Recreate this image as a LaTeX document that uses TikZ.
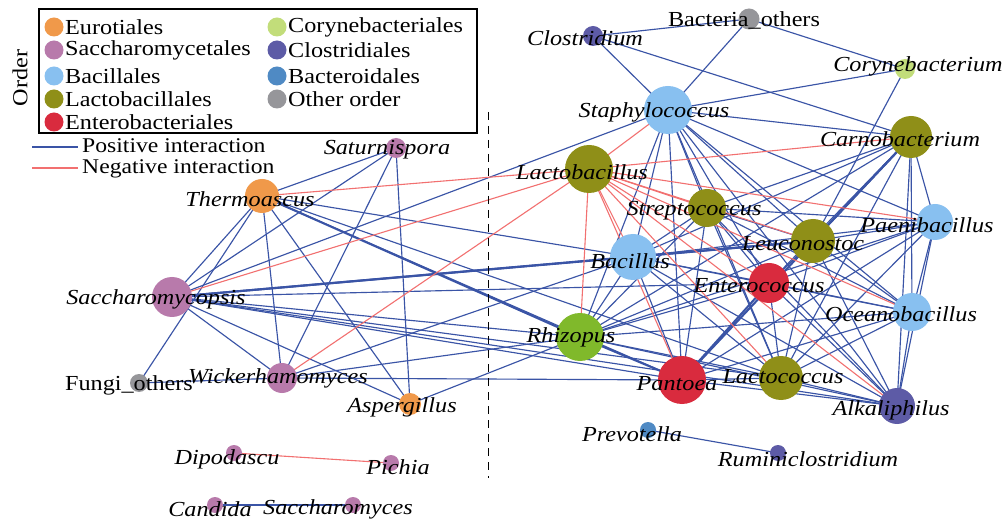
\documentclass[tikz,border=0pt]{standalone}
\usepackage{fontspec}
\setmainfont[FakeStretch=1.13]{Liberation Serif}
\usetikzlibrary{backgrounds}
\pgfdeclarelayer{paper}
\pgfsetlayers{paper,background,main}
\definecolor{posblue}{HTML}{3A54A6}
\definecolor{negred}{HTML}{F27070}
\definecolor{cEuro}{HTML}{F0994A}
\definecolor{cSacc}{HTML}{B87AAB}
\definecolor{cBaci}{HTML}{88C0F0}
\definecolor{cLact}{HTML}{8F8F18}
\definecolor{cEnte}{HTML}{D92B3E}
\definecolor{cCory}{HTML}{C2DD7A}
\definecolor{cClos}{HTML}{5D5BA6}
\definecolor{cBact}{HTML}{4F8AC4}
\definecolor{cOther}{HTML}{96969A}
\definecolor{cRhiz}{HTML}{80B92B}
\tikzset{
  bub/.style={circle, inner sep=0pt, minimum size=#1},
  lab/.style={font=\fontsize{21.5}{24}\selectfont\itshape, inner sep=0pt, yshift=-2bp},
  ulab/.style={font=\fontsize{21.5}{24}\selectfont, inner sep=0pt},
  legtxt/.style={font=\fontsize{21.5}{24}\selectfont, inner sep=0pt, anchor=west},
  intxt/.style={font=\fontsize{21}{24}\selectfont, inner sep=0pt, anchor=base west},
  posedge/.style={draw=posblue, line width=1.15pt},
  negedge/.style={draw=negred, line width=1.1pt},
  posthick/.style={draw=posblue, line width=2.1pt},
}
\begin{document}
\begin{tikzpicture}[x=1bp,y=-1bp]
\useasboundingbox (0,0) rectangle (1005,520);
\begin{pgfonlayer}{paper}
\fill[white] (0,0) rectangle (1005,520);
\end{pgfonlayer}

% ---- nodes (circles) ----
\node[bub=21bp, fill=cOther] (bo) at (749,19) {};
\node[bub=20bp, fill=cClos] (clo) at (593,36) {};
\node[bub=20bp, fill=cCory] (cor) at (905,69) {};
\node[bub=48bp, fill=cBaci] (sta) at (668,110) {};
\node[bub=42bp, fill=cLact] (car) at (911,137) {};
\node[bub=48bp, fill=cLact] (lcb) at (589,169) {};
\node[bub=38bp, fill=cLact] (str) at (707,208) {};
\node[bub=36bp, fill=cBaci] (pae) at (935,222) {};
\node[bub=44bp, fill=cLact] (leu) at (813,241) {};
\node[bub=46bp, fill=cBaci] (bac) at (633,257) {};
\node[bub=40bp, fill=cEnte] (ent) at (769,283) {};
\node[bub=38bp, fill=cBaci] (oce) at (912,312) {};
\node[bub=48bp, fill=cRhiz] (rhi) at (580,337) {};
\node[bub=48bp, fill=cEnte] (pan) at (682,380) {};
\node[bub=44bp, fill=cLact] (lcc) at (781,378) {};
\node[bub=36bp, fill=cClos] (alk) at (897,406) {};
\node[bub=16bp, fill=cBact] (pre) at (648,430) {};
\node[bub=16bp, fill=cClos] (rum) at (778,453) {};
\node[bub=20bp, fill=cSacc] (sat) at (396,148) {};
\node[bub=34bp, fill=cEuro] (the) at (262,196) {};
\node[bub=40bp, fill=cSacc] (sac) at (172,297) {};
\node[bub=30bp, fill=cSacc] (wic) at (282,378) {};
\node[bub=18bp, fill=cOther] (fun) at (139,383) {};
\node[bub=22bp, fill=cEuro] (asp) at (410,404) {};
\node[bub=16bp, fill=cSacc] (dip) at (234,453) {};
\node[bub=16bp, fill=cSacc] (pic) at (391,463) {};
\node[bub=16bp, fill=cSacc] (can) at (215,505) {};
\node[bub=16bp, fill=cSacc] (scm) at (353,505) {};

% ---- edges ----
\begin{pgfonlayer}{background}
\foreach \a/\b in {clo/bo, bo/sta, bo/cor, clo/sta, clo/car, cor/sta, cor/leu,
  sta/car, sta/sac, sta/bac, sta/rhi, sta/str, sta/pan, sta/ent, sta/lcc, sta/leu,
  sta/oce, sta/alk, sta/pae,
  car/str, car/bac, car/ent, car/rhi, car/lcc, car/pae, car/oce, car/alk,
  str/bac, str/leu, str/ent, str/pan, str/lcc, str/rhi, str/pae, str/oce, str/alk,
  pae/bac, pae/leu, pae/ent, pae/rhi, pae/pan, pae/lcc, pae/oce, pae/alk,
  leu/ent, leu/rhi, leu/pan, leu/lcc, leu/oce, leu/alk,
  bac/ent, bac/rhi, bac/pan, bac/lcc, bac/oce, bac/alk, bac/the,
  ent/rhi, ent/lcc, ent/oce, ent/alk, ent/sac,
  oce/rhi, oce/pan, oce/lcc, oce/alk,
  rhi/lcc, rhi/alk, rhi/sac, rhi/wic, rhi/asp,
  pan/lcc, pan/alk, pan/sac, pan/wic, pan/the,
  lcc/alk, lcc/sac, lcc/the, alk/sac,
  sat/the, sat/sac, sat/wic, sat/asp,
  the/sac, the/fun, the/wic, the/asp,
  sac/wic, sac/asp, fun/wic, wic/bac,
  can/scm, pre/rum}
  \draw[posedge] (\a.center) -- (\b.center);
\foreach \a/\b in {car/leu, car/pan, leu/bac, leu/sac, ent/pan, rhi/pan, rhi/the, bac/sac}
  \draw[posthick] (\a.center) -- (\b.center);
\foreach \a/\b in {sta/lcb, car/lcb, lcb/bac, lcb/rhi, lcb/pan, lcb/ent, lcb/lcc,
  lcb/leu, lcb/pae, lcb/oce, lcb/alk, lcb/str, lcb/the, lcb/sac, lcb/wic, dip/pic}
  \draw[negedge] (\a.center) -- (\b.center);
\end{pgfonlayer}

% ---- dashed separator ----
\coordinate (dtop) at (488,112);
\coordinate (dbot) at (488,478);
\draw[black, line width=1pt, dash pattern=on 8bp off 6bp] (dtop) -- (dbot);

% ---- labels ----
\node[ulab] (Lbo) at (744,20) {Bacteria\_others};
\node[lab] (Lclo) at (585,36) {Clostridium};
\node[lab] (Lcor) at (918,64) {Corynebacterium};
\node[lab] (Lsta) at (654,110) {Staphylococcus};
\node[lab] (Lcar) at (900,137) {Carnobacterium};
\node[lab] (Llcb) at (582,170) {Lactobacillus};
\node[lab] (Lstr) at (694,209) {Streptococcus};
\node[lab] (Lpae) at (927,223) {Paenibacillus};
\node[lab] (Lleu) at (803,242) {Leuconostoc};
\node[lab] (Lbac) at (630,259) {Bacillus};
\node[lab] (Lent) at (759,284) {Enterococcus};
\node[lab] (Loce) at (901,312) {Oceanobacillus};
\node[lab] (Lrhi) at (571,335) {Rhizopus};
\node[lab] (Lpan) at (677,382) {Pantoea};
\node[lab] (Llcc) at (783,375) {Lactococcus};
\node[lab] (Lalk) at (891,408) {Alkaliphilus};
\node[lab] (Lpre) at (632,432) {Prevotella};
\node[lab] (Lrum) at (808,457) {Ruminiclostridium};
\node[lab] (Lsat) at (387,148) {Saturnispora};
\node[lab] (Lthe) at (250,197) {Thermoascus};
\node[lab] (Lsac) at (156,297) {Saccharomycopsis};
\node[lab] (Lwic) at (278,376) {Wickerhamomyces};
\node[ulab] (Lfun) at (129,385) {Fungi\_others};
\node[lab] (Lasp) at (402,405) {Aspergillus};
\node[lab] (Ldip) at (227,457) {Dipodascu};
\node[lab] (Lpic) at (398,465) {Pichia};
\node[lab] (Lcan) at (210,507) {Candida};
\node[lab] (Lscm) at (338,507) {Saccharomyces};

% ---- legend ----
\node[draw=black, line width=1.2pt, minimum width=438bp, minimum height=124bp, inner sep=0pt] (legbox) at (258,71) {};
\node[ulab, rotate=90] (ordertxt) at (20,78) {Order};
\foreach \c/\t/\y [count=\i] in {cEuro/Eurotiales/27, cSacc/Saccharomycetales/50, cBaci/Bacillales/76, cLact/Lactobacillales/99, cEnte/Enterobacteriales/122} {
  \node[bub=19bp, fill=\c] (lc\i) at (54,\y) {};
  \node[legtxt] (lt\i) at (65,\y) {\t};
}
\foreach \c/\t/\y [count=\i] in {cCory/Corynebacteriales/27, cClos/Clostridiales/50, cBact/Bacteroidales/76, cOther/Other order/99} {
  \node[bub=19bp, fill=\c] (rc\i) at (277,\y) {};
  \node[legtxt] (rt\i) at (288,\y) {\t};
}
\coordinate (pl1) at (32,147);
\coordinate (pl2) at (78,147);
\coordinate (nl1) at (32,168);
\coordinate (nl2) at (78,168);
\draw[posedge] (pl1) -- (pl2);
\draw[negedge] (nl1) -- (nl2);
\node[intxt] (ptxt) at (82,153) {Positive interaction};
\node[intxt] (ntxt) at (82,174) {Negative interaction};
\end{tikzpicture}
\end{document}
